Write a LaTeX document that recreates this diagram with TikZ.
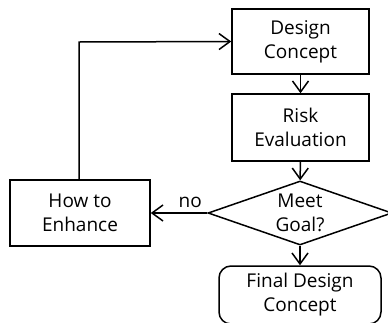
\documentclass[tikz,border=0pt]{standalone}
\usepackage{fontspec}
\setmainfont{Open Sans}
\usetikzlibrary{arrows.meta,shapes.geometric}
\begin{document}
\begin{tikzpicture}[x=1pt,y=-1pt,
  every node/.style={font=\fontsize{19}{24}\selectfont, align=center, line width=1.5pt},
  box/.style={draw, minimum width=137pt, minimum height=65pt, inner sep=0pt},
  rbox/.style={draw, rounded corners=12pt, minimum width=162pt, minimum height=58pt, inner sep=0pt},
  dia/.style={draw, shape=diamond, aspect=2.875, minimum width=184pt, minimum height=64pt, inner sep=0pt},
  conn/.style={line width=1.5pt, -{Straight Barb[length=11pt,width=16pt,line width=1.5pt]}}
]
\useasboundingbox (0,0) rectangle (388,322);
\node[box] (dc) at (300.5,41.5) {Design\\Concept};
\node[box, minimum height=67pt] (re) at (300.5,127.5) {Risk\\Evaluation};
\node[dia] (mg) at (300,213) {Meet\\Goal?};
\node[box, minimum width=140pt, minimum height=66pt] (he) at (80,213) {How to\\Enhance};
\node[rbox] (fd) at (300,295) {Final Design\\Concept};
\coordinate (corner) at (79,42);
\draw[conn] (dc) -- (re);
\draw[conn] (re) -- (mg);
\draw[conn] (mg) -- (fd);
\draw[conn] (mg.west) -- node[above, pos=0.3, yshift=1pt] {no} (he.east);
\draw[conn] (he.north -| corner) -- (corner) -- (dc.west);
\end{tikzpicture}
\end{document}
